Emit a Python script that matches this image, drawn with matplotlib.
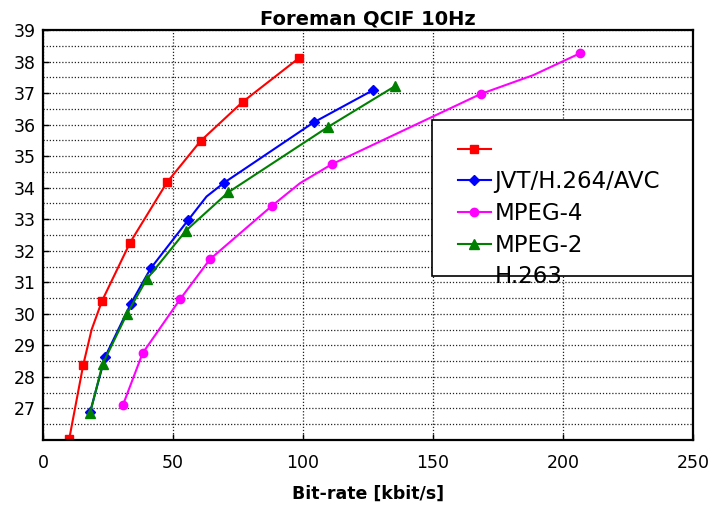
import matplotlib
matplotlib.use("Agg")
import matplotlib.pyplot as plt
from matplotlib.lines import Line2D
from matplotlib.patches import Rectangle

plt.rcParams['font.family'] = ['DejaVu Sans']

title = "Foreman QCIF 10Hz"
xlabel = "Bit-rate [kbit/s]"

# Red series (squares); vertices, marker indices
red_x = [10.1, 15.5, 18.7, 22.7, 33.5, 47.7, 60.6, 76.8, 98.6]
red_y = [26.04, 28.39, 29.5, 30.41, 32.26, 34.17, 35.48, 36.72, 38.12]
red_mk = [0, 1, 3, 4, 5, 6, 7, 8]

# Blue series (diamonds)
blue_x = [18.1, 23.8, 33.7, 41.4, 55.9, 62.9, 69.7, 104.1, 127.1]
blue_y = [26.88, 28.62, 30.31, 31.44, 32.98, 33.72, 34.16, 36.07, 37.10]
blue_mk = [0, 1, 2, 3, 4, 6, 7, 8]

# Magenta series (circles)
mag_x = [30.8, 38.3, 52.7, 64.2, 88.0, 98.8, 111.0, 168.3, 188.6, 206.5]
mag_y = [27.12, 28.75, 30.46, 31.73, 33.42, 34.14, 34.74, 36.97, 37.57, 38.26]
mag_mk = [0, 1, 2, 3, 4, 6, 7, 9]

# Green series (triangles)
grn_x = [18.1, 22.9, 32.3, 39.9, 55.0, 71.2, 109.7, 135.4]
grn_y = [26.85, 28.40, 30.0, 31.1, 32.64, 33.85, 35.93, 37.22]
grn_mk = [0, 1, 2, 3, 4, 5, 6, 7]

legend_labels = [" ", "JVT/H.264/AVC", "MPEG-4", "MPEG-2", "H.263"]

xticks = [0, 50, 100, 150, 200, 250]
yticks = [27, 28, 29, 30, 31, 32, 33, 34, 35, 36, 37, 38, 39]

fig = plt.figure(figsize=(7.18, 5.08), dpi=100)
ax = fig.add_axes([43/718, 68/508, 650/718, 410/508])

ax.set_xlim(0, 250)
ax.set_ylim(26, 39)

ax.set_xticks(xticks)
ax.set_xticklabels([str(t) for t in xticks])
ax.set_yticks(yticks)
ax.set_yticklabels([str(t) for t in yticks])
ax.set_yticks([v + 0.5 for v in range(26, 39)], minor=True)
ax.tick_params(axis='both', which='both', direction='in', length=4, width=1)
ax.tick_params(axis='y', which='minor', length=0)
ax.tick_params(axis='x', labelsize=12.5, pad=10)
ax.tick_params(axis='y', labelsize=12.5, pad=5)

ax.grid(True, which='major', axis='x', color='#222222', linestyle=(0, (1, 1.5)), linewidth=0.9)
ax.grid(True, which='both', axis='y', color='#222222', linestyle=(0, (1, 1.5)), linewidth=0.9)
ax.set_axisbelow(True)

for s in ax.spines.values():
    s.set_linewidth(1.6)
    s.set_zorder(6)

ms = 6
l1, = ax.plot(red_x, red_y, color='#ff0000', lw=1.5, marker='s', ms=ms, markevery=red_mk, zorder=3)
l2, = ax.plot(blue_x, blue_y, color='#0000ff', lw=1.5, marker='D', ms=5, markevery=blue_mk, zorder=3)
l3, = ax.plot(mag_x, mag_y, color='#ff00ff', lw=1.5, marker='o', ms=6, markevery=mag_mk, zorder=3)
l4, = ax.plot(grn_x, grn_y, color='#008000', lw=1.5, marker='^', ms=7, markevery=grn_mk, zorder=3)

ax.set_title(title, fontsize=14, fontweight='bold', pad=4)
ax.set_xlabel(xlabel, fontsize=12.5, fontweight='bold', labelpad=9)

# legend box
rect = Rectangle((0.598, 0.40), 0.402, 0.38, transform=ax.transAxes,
                 facecolor='white', edgecolor='black', lw=1.2, zorder=4, clip_on=False)
ax.add_patch(rect)

h1 = Line2D([], [], color='#ff0000', lw=1.5, marker='s', ms=ms)
h2 = Line2D([], [], color='#0000ff', lw=1.5, marker='D', ms=5)
h3 = Line2D([], [], color='#ff00ff', lw=1.5, marker='o', ms=6)
h4 = Line2D([], [], color='#008000', lw=1.5, marker='^', ms=7)
h5 = Line2D([], [], color='none', lw=0)
leg = ax.legend([h1, h2, h3, h4, h5], legend_labels, loc='upper left',
                bbox_to_anchor=(0.638, 0.735), frameon=False, fontsize=16.5,
                handlelength=1.44, handletextpad=0.17, labelspacing=0.38,
                borderpad=0, borderaxespad=0)
leg.set_zorder(5)

fig.savefig("out.png", dpi=100)
